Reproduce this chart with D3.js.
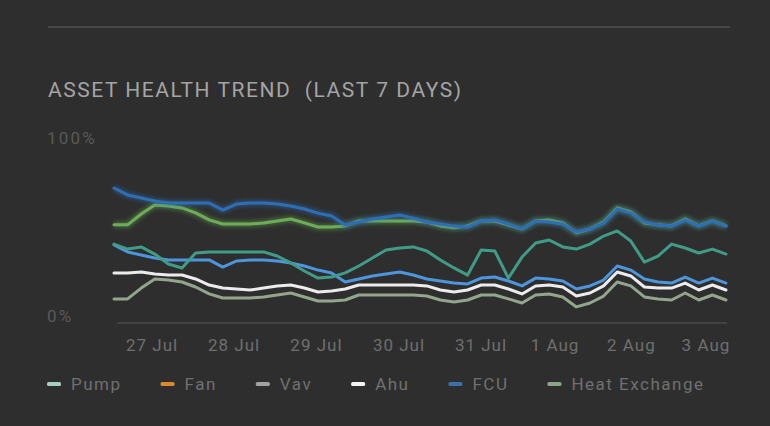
<!DOCTYPE html>
<html>
<head>
<meta charset="utf-8">
<script src="https://cdn.jsdelivr.net/npm/d3@7"></script>
<style>
  html, body { margin: 0; padding: 0; background: #2e2e2e; }
  svg { display: block; }
  text { font-family: Roboto, "Noto Sans", sans-serif; }
</style>
</head>
<body>
<svg id="chart" width="770" height="426"></svg>
<script>
// Day labels and where they sit along the sample index (samples every 4 h)
const dayLabels = ["27 Jul", "28 Jul", "29 Jul", "30 Jul", "31 Jul", "1 Aug", "2 Aug", "3 Aug"];
const dayTickIndex = [2.76, 8.79, 14.85, 20.92, 26.95, 32.39, 38.01, 43.49];
const yTickValues = [0, 100];

// Health score (%) per sample
const pumpHealth = [40.4, 37.6, 38.8, 34.8, 29.2, 27.0, 35.4, 36.0, 36.0, 36.0, 36.0, 36.0, 33.7, 29.8, 25.3, 21.3,
  21.9, 24.2, 28.1, 32.6, 37.1, 38.2, 38.8, 36.5, 31.5, 27.0, 23.0, 37.1, 36.5, 21.3, 33.1, 41.0, 42.7, 38.8, 37.6,
  40.4, 44.9, 47.8, 42.1, 30.3, 33.7, 40.4, 38.2, 35.4, 37.6, 34.8];
const fanHealth = [];
const vavHealth = [9.6, 9.6, 15.7, 20.8, 20.2, 19.1, 16.3, 12.4, 10.1, 10.1, 10.1, 10.7, 11.8, 12.9, 10.7, 8.4,
  8.4, 9.0, 11.8, 11.8, 11.8, 11.8, 11.8, 11.2, 9.0, 7.9, 9.0, 11.8, 11.8, 9.6, 7.3, 11.8, 12.4, 10.7, 5.1, 7.3,
  11.2, 19.1, 16.9, 10.7, 9.6, 9.0, 12.9, 9.0, 11.8, 9.0];
const ahuHealth = [24.2, 24.2, 24.7, 23.6, 23.0, 23.0, 20.8, 17.4, 15.7, 15.2, 14.6, 15.7, 16.9, 17.4, 15.7, 13.5,
  14.0, 15.2, 17.4, 17.4, 17.4, 17.4, 17.4, 16.9, 14.6, 13.5, 14.6, 17.4, 17.4, 15.2, 12.4, 16.9, 17.4, 16.3, 11.2,
  12.9, 16.9, 24.7, 22.5, 16.3, 15.7, 15.7, 18.5, 14.6, 17.4, 14.6];
const fcuHealth = [71.9, 68.0, 66.3, 64.6, 63.5, 63.5, 63.5, 63.5, 59.5, 62.9, 63.5, 63.5, 62.9, 61.8, 60.1, 57.8,
  56.2, 51.1, 52.8, 54.5, 55.6, 56.7, 55.0, 52.8, 51.7, 50.5, 50.0, 53.3, 53.9, 51.7, 48.9, 53.3, 52.8, 51.7, 47.2,
  48.9, 52.2, 60.1, 57.8, 52.8, 51.1, 50.5, 53.9, 50.5, 53.3, 50.5];
const fcuZoneHealth = [39.9, 36.0, 34.3, 32.6, 31.5, 31.5, 31.5, 31.5, 27.5, 30.9, 31.5, 31.5, 30.9, 29.8, 28.1, 25.8,
  24.2, 19.1, 20.8, 22.5, 23.6, 24.7, 23.0, 20.8, 19.7, 18.5, 18.0, 21.3, 21.9, 19.7, 16.9, 21.3, 20.8, 19.7, 15.2,
  16.9, 20.2, 28.1, 25.8, 20.8, 19.1, 18.5, 21.9, 18.5, 21.3, 18.5];
const heatExchangeHealth = [51.2, 51.2, 57.3, 62.4, 61.8, 60.7, 57.9, 54.0, 51.7, 51.7, 51.7, 52.3, 53.4, 54.5, 52.3,
  50.0, 50.0, 50.6, 53.4, 53.4, 53.4, 53.4, 53.4, 52.8, 50.6, 49.5, 50.6, 53.4, 53.4, 51.2, 48.9, 53.4, 54.0, 52.3,
  46.7, 48.9, 52.8, 60.7, 58.5, 52.3, 51.2, 50.6, 54.5, 50.6, 53.4, 50.6];

// Drawing order: bottom to top
const lines = [
  { key: "vav", values: vavHealth, color: "#93a58c", glow: false },
  { key: "ahu", values: ahuHealth, color: "#ececec", glow: false },
  { key: "fcuZone", values: fcuZoneHealth, color: "#4d95dc", glow: false },
  { key: "pump", values: pumpHealth, color: "#409c86", glow: false },
  { key: "fan", values: fanHealth, color: "#e0862e", glow: false },
  { key: "heatExchange", values: heatExchangeHealth, color: "#6cae55", glow: true },
  { key: "fcu", values: fcuHealth, color: "#2d6fb6", glow: true }
];

const legendItems = [
  { name: "Pump", color: "#a9cfc0" },
  { name: "Fan", color: "#e0862e" },
  { name: "Vav", color: "#a2a2a2" },
  { name: "Ahu", color: "#f2f2f2" },
  { name: "FCU", color: "#3a6fae" },
  { name: "Heat Exchange", color: "#8fa28b" }
];

const svg = d3.select("#chart");
const W = 770, H = 426;
svg.append("rect").attr("width", W).attr("height", H).attr("fill", "#2e2e2e");

const defs = svg.append("defs");
const glow = defs.append("filter").attr("id", "glow")
  .attr("x", "-5%").attr("y", "-50%").attr("width", "110%").attr("height", "200%");
glow.append("feGaussianBlur").attr("stdDeviation", 2);

// Header rule and title
svg.append("line").attr("x1", 48).attr("x2", 730).attr("y1", 27).attr("y2", 27)
  .attr("stroke", "#474747").attr("stroke-width", 2);
svg.append("text").attr("x", 48).attr("y", 97)
  .attr("fill", "#a4a4a4").attr("font-size", 21)
  .attr("textLength", 413).attr("lengthAdjust", "spacing")
  .text("ASSET HEALTH TREND\u00a0\u00a0(LAST 7 DAYS)");

// Scales
const x = d3.scaleLinear().domain([0, 45]).range([114, 726]);
const y = d3.scaleLinear().domain([0, 100]).range([316, 138]);
const axisY = 323;

// X axis
const gx = svg.append("g").attr("transform", `translate(0,${axisY})`)
  .call(d3.axisBottom(x).tickValues(dayTickIndex).tickFormat((d, i) => dayLabels[i])
    .tickSize(0).tickSizeOuter(0).tickPadding(16));
gx.select(".domain").attr("stroke", "#4a4a4a").attr("stroke-width", 1.5)
  .attr("d", `M${x(0) + 3},0H${x(45) + 1}`);
gx.selectAll("text").attr("fill", "#6f6f6f").attr("font-size", 17)
  .attr("font-family", "Roboto, sans-serif").attr("letter-spacing", 1.0);

// Y axis labels
const gy = svg.append("g").attr("transform", "translate(47,0)")
  .call(d3.axisLeft(y).tickValues(yTickValues).tickFormat(d => d + "%").tickSize(0));
gy.select(".domain").remove();
gy.selectAll("text").attr("text-anchor", "start").attr("x", 0)
  .attr("fill", "#595959").attr("font-size", 17)
  .attr("font-family", "Roboto, sans-serif").attr("letter-spacing", 2.2);

// Lines
const lineGen = d3.line().x((d, i) => x(i)).y(d => y(d)).curve(d3.curveLinear);
const plot = svg.append("g");
lines.forEach(s => {
  if (!s.values.length) return;
  if (s.glow) {
    plot.append("path").datum(s.values).attr("d", lineGen)
      .attr("fill", "none").attr("stroke", s.color).attr("stroke-width", 6)
      .attr("stroke-opacity", 0.45).attr("filter", "url(#glow)")
      .attr("stroke-linejoin", "round");
  }
  plot.append("path").datum(s.values).attr("d", lineGen)
    .attr("fill", "none").attr("stroke", s.color).attr("stroke-width", 3)
    .attr("stroke-linejoin", "round").attr("stroke-linecap", "round");
});

// Legend: swatch, label, then a constant gap before the next item
const legend = svg.append("g").attr("transform", "translate(47,384)");
let cx = 0;
legendItems.forEach(item => {
  const g = legend.append("g").attr("transform", `translate(${cx},0)`);
  g.append("rect").attr("x", 0).attr("y", -2).attr("width", 14).attr("height", 4)
    .attr("rx", 1.5).attr("fill", item.color);
  const t = g.append("text").attr("x", 24).attr("y", 0).attr("dy", "0.35em")
    .attr("fill", "#707070").attr("font-size", 17).attr("letter-spacing", 1.5)
    .text(item.name);
  cx += 24 + t.node().getComputedTextLength() + 39;
});
</script>
</body>
</html>
